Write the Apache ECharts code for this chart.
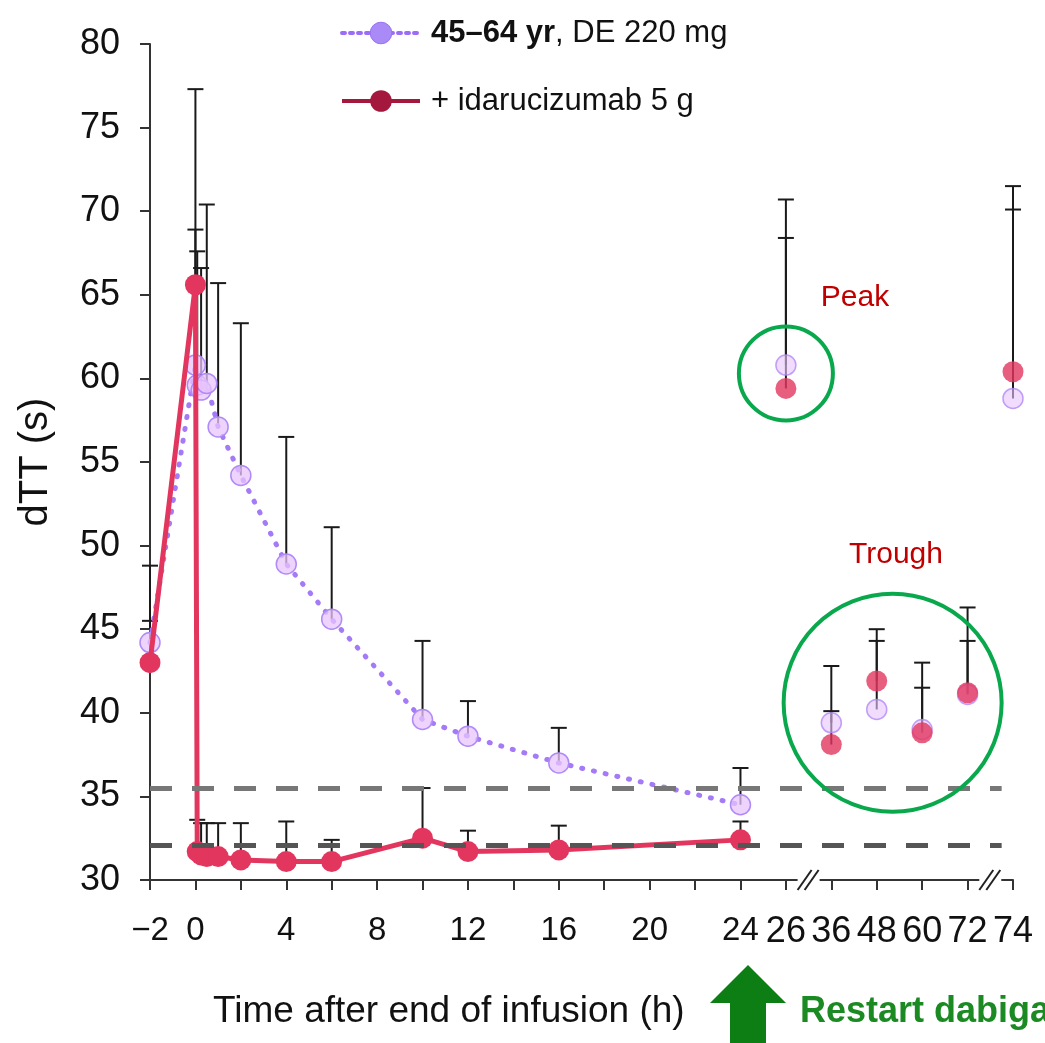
<!DOCTYPE html>
<html>
<head>
<meta charset="utf-8">
<script src="https://cdn.jsdelivr.net/npm/echarts@6/dist/echarts.min.js"></script>
<style>
  html, body { margin: 0; padding: 0; background: #fff; }
  #chart { width: 1045px; height: 1043px; }
</style>
</head>
<body>
<div id="chart"></div>
<script>
// time points (h after end of infusion)
const earlyHours = [-2, 0, 0.08, 0.25, 0.5, 1, 2, 4, 6, 10, 12, 16, 24];
const lateHours = [26, 36, 48, 60, 72, 74];

// 45-64 yr, DE 220 mg
const deEarly = [44.2, 60.8, 59.6, 59.3, 59.7, 57.1, 54.2, 48.9, 45.6, 39.6, 38.6, 37.0, 34.5];
const deEarlyUp = [48.8, 77.3, 67.6, 66.6, 70.4, 65.7, 63.3, 56.5, 51.1, 44.3, 40.7, 39.1, 36.7];
const deLate = [60.8, 39.4, 40.2, 39.0, 41.1, 58.8];
const deLateUp = [70.7, 42.8, 45.0, 43.0, 46.3, 71.5];

// + idarucizumab 5 g
const idaEarly = [43.0, 65.6, 31.7, 31.5, 31.4, 31.4, 31.2, 31.1, 31.1, 32.5, 31.7, 31.8, 32.4];
const idaEarlyUp = [45.5, 68.9, 33.6, 33.4, 33.4, 33.4, 33.4, 33.5, 32.4, 35.5, 32.95, 33.25, 33.5];
const idaLate = [59.4, 38.1, 41.9, 38.8, 41.2, 60.4];
const idaLateUp = [68.4, 40.1, 44.3, 41.5, 44.3, 70.1];

const xLabelHours = [-2, 0, 4, 8, 12, 16, 20, 24, 26, 36, 48, 60, 72, 74];
const limitLines = [35.5, 32.1];

const FONT = 'Liberation Sans';
const RED = '#e2365e';

// broken axis: after 26 h each later time point takes one 2 h slot
function axisPos(h) {
  const i = lateHours.indexOf(h);
  return i > 0 ? 26 + 2 * i : h;
}
function tickLabel(v) {
  const h = xLabelHours.find(t => axisPos(t) === v);
  if (h === undefined) return '';
  const s = h < 0 ? '\u2212' + Math.abs(h) : String(h);
  return h >= 26 ? '{big|' + s + '}' : s;
}

const pts = (hours, vals) => hours.map((h, i) => [axisPos(h), vals[i]]);
const bars = (hours, vals, ups) => hours.map((h, i) => [axisPos(h), vals[i], ups[i]]);

function errorBar(params, api) {
  const p0 = api.coord([api.value(0), api.value(1)]);
  const p1 = api.coord([api.value(0), api.value(2)]);
  const style = { stroke: '#1a1a1a', lineWidth: 2 };
  return {
    type: 'group',
    children: [
      { type: 'line', shape: { x1: p0[0], y1: p0[1], x2: p1[0], y2: p1[1] }, style: style },
      { type: 'line', shape: { x1: p1[0] - 8, y1: p1[1], x2: p1[0] + 8, y2: p1[1] }, style: style }
    ]
  };
}

const DE_NAME = '45–64 yr, DE 220 mg';
const IDA_NAME = '+ idarucizumab 5 g';

const deSymbol = { color: 'rgba(232,196,252,0.75)', borderColor: '#b08af8', borderWidth: 1.5 };

const chart = echarts.init(document.getElementById('chart'));
chart.setOption({
  animation: false,
  backgroundColor: '#fff',
  grid: { left: 150, right: 32, top: 44, bottom: 163 },
  legend: {
    orient: 'vertical',
    left: 335,
    top: 10,
    itemWidth: 78,
    itemHeight: 27,
    itemGap: 32,
    textStyle: {
      fontFamily: FONT, fontSize: 31, color: '#111', lineHeight: 36, padding: [0, 0, 0, 6],
      rich: { b: { fontFamily: FONT, fontSize: 31, fontWeight: 'bold', color: '#111' } }
    },
    formatter: name => name === DE_NAME ? '{b|45–64 yr}, DE 220 mg' : name,
    data: [
      { name: DE_NAME, itemStyle: { color: '#a98af7', borderColor: '#9a72f2', borderWidth: 1 }, lineStyle: { color: '#9b6cf5', width: 4, type: [3, 5] } },
      { name: IDA_NAME, itemStyle: { color: '#a3183c' }, lineStyle: { color: '#a3183c', width: 4 } }
    ]
  },
  xAxis: {
    type: 'value',
    min: -2,
    max: 36,
    interval: 2,
    splitLine: { show: false },
    axisLine: { onZero: false, lineStyle: { color: '#333', width: 2 } },
    axisTick: { length: 10, lineStyle: { color: '#333', width: 2 } },
    axisLabel: {
      margin: 34, fontFamily: FONT, fontSize: 33, color: '#111',
      formatter: tickLabel, showMinLabel: true, showMaxLabel: true, hideOverlap: false,
      rich: { big: { fontFamily: FONT, fontSize: 36, color: '#111' } }
    }
  },
  yAxis: {
    type: 'value',
    min: 30,
    max: 80,
    interval: 5,
    name: 'dTT (s)',
    nameLocation: 'middle',
    nameGap: 94,
    nameTextStyle: { fontFamily: FONT, fontSize: 40, color: '#111' },
    splitLine: { show: false },
    axisLine: { show: true, onZero: false, lineStyle: { color: '#333', width: 2 } },
    axisTick: { show: true, length: 10, lineStyle: { color: '#333', width: 2 } },
    axisLabel: { margin: 30, fontFamily: FONT, fontSize: 36, color: '#111' }
  },
  series: [
    {
      type: 'custom',
      name: 'bars',
      renderItem: errorBar,
      encode: { x: 0, y: [1, 2] },
      data: bars(earlyHours, deEarly, deEarlyUp).concat(bars(lateHours, deLate, deLateUp),
        bars(earlyHours, idaEarly, idaEarlyUp), bars(lateHours, idaLate, idaLateUp)),
      z: 2,
      silent: true,
      markLine: {
        silent: true,
        symbol: 'none',
        label: { show: false },
        data: limitLines.map((v, i) => [
          { coord: [-2, v], lineStyle: { color: i ? '#555' : '#777', width: 5, type: [22, 20] } },
          { coord: [35.5, v] }
        ])
      }
    },
    {
      type: 'line',
      name: DE_NAME,
      data: pts(earlyHours, deEarly),
      symbol: 'circle',
      symbolSize: 20,
      itemStyle: deSymbol,
      lineStyle: { color: '#a47af7', width: 5, type: [1, 11], cap: 'round' },
      z: 3
    },
    {
      type: 'scatter',
      name: DE_NAME,
      data: pts(lateHours, deLate),
      symbol: 'circle',
      symbolSize: 20,
      itemStyle: deSymbol,
      z: 3
    },
    {
      type: 'line',
      name: IDA_NAME,
      data: pts(earlyHours, idaEarly),
      symbol: 'circle',
      symbolSize: 21,
      itemStyle: { color: RED },
      lineStyle: { color: RED, width: 5 },
      z: 4
    },
    {
      type: 'scatter',
      name: IDA_NAME,
      data: pts(lateHours, idaLate),
      symbol: 'circle',
      symbolSize: 21,
      itemStyle: { color: RED },
      z: 4
    }
  ]
});

// annotations: axis breaks, circles, labels, arrow
const gfx = [];
[27, 35].forEach(p => {
  const [bx, by] = chart.convertToPixel({ gridIndex: 0 }, [p, 30]);
  gfx.push({ type: 'rect', shape: { x: bx - 11, y: by - 4, width: 22, height: 8 }, style: { fill: '#fff' }, z: 100 });
  [-4, 3].forEach(o => gfx.push({
    type: 'line', z: 101,
    shape: { x1: bx + o - 7, y1: by + 10, x2: bx + o + 7, y2: by - 10 },
    style: { stroke: '#222', lineWidth: 2 }
  }));
});
const peakC = chart.convertToPixel({ gridIndex: 0 }, [26, 60.3]);
const troughC = chart.convertToPixel({ gridIndex: 0 }, [30.7, 40.6]);
gfx.push(
  { type: 'circle', z: 50, shape: { cx: peakC[0], cy: peakC[1], r: 47 }, style: { fill: null, stroke: '#0aa84c', lineWidth: 4 } },
  { type: 'circle', z: 50, shape: { cx: troughC[0], cy: troughC[1], r: 109 }, style: { fill: null, stroke: '#0aa84c', lineWidth: 4 } },
  { type: 'text', z: 50, x: 855, y: 298, style: { text: 'Peak', fill: '#c00000', font: '30px "Liberation Sans"', align: 'center', verticalAlign: 'middle' } },
  { type: 'text', z: 50, x: 896, y: 555, style: { text: 'Trough', fill: '#c00000', font: '30px "Liberation Sans"', align: 'center', verticalAlign: 'middle' } },
  { type: 'text', z: 50, x: 213, y: 1012, style: { text: 'Time after end of infusion (h)', fill: '#111', font: '37px "Liberation Sans"', align: 'left', verticalAlign: 'middle' } },
  { type: 'polygon', z: 50, shape: { points: [[748, 965], [710, 1003], [730, 1003], [730, 1043], [766, 1043], [766, 1003], [786, 1003]] }, style: { fill: '#0c7e14' } },
  { type: 'text', z: 50, x: 800, y: 1012, style: { text: 'Restart dabigatran', fill: '#1b8a22', font: 'bold 36px "Liberation Sans"', align: 'left', verticalAlign: 'middle' } }
);
chart.setOption({ graphic: gfx });
</script>
</body>
</html>
